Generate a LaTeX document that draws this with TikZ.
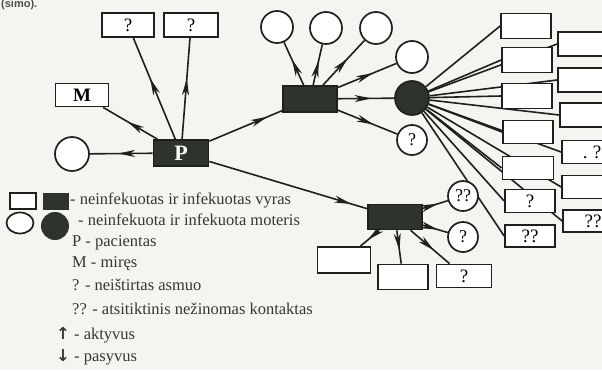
\documentclass[tikz,border=0pt]{standalone}
\usepackage{fontspec}
\setmainfont{Liberation Serif}
\newfontfamily\arrfont{DejaVu Sans}
\newfontfamily\titfont{Liberation Sans}
\usetikzlibrary{arrows.meta,decorations.markings,shapes.geometric}
\definecolor{paper}{HTML}{F4F4F0}
\definecolor{ink}{HTML}{1F201E}
\definecolor{infek}{HTML}{2E332D}
\pgfdeclarelayer{paperL}
\pgfdeclarelayer{lines}
\pgfsetlayers{paperL,lines,main}
\tikzset{
  vyras/.style={draw=ink, line width=1.7pt, fill=white, minimum width=52pt,
    minimum height=24pt, inner sep=0pt, font=\fontsize{19}{19}\selectfont},
  vyrasI/.style={vyras, fill=infek, text=white},
  moteris/.style={circle, draw=ink, line width=1.7pt, fill=white, minimum size=32pt,
    inner sep=0pt, font=\fontsize{18}{18}\selectfont},
  moterisI/.style={moteris, fill=infek},
  rys/.style={draw=ink, line width=1.6pt},
  ryssu/.style={rys, postaction={decorate}, decoration={markings,
    mark=at position #1 with {\arrow{Stealth[length=17pt,width=7pt,inset=5pt]}}}},
  ryssu/.default=0.55,
  leg/.style={anchor=base west, inner sep=0pt, text=ink!90,
    font=\fontsize{16.5}{16.5}\selectfont}
}

\begin{document}
\begin{tikzpicture}[x=1pt,y=-1pt]
  \useasboundingbox (0,0) rectangle (602,370);
  \begin{pgfonlayer}{paperL}
    \fill[paper] (0,0) rectangle (602,370);
  \end{pgfonlayer}
  \clip (0,0) rectangle (602,370);

  \node[anchor=south west, inner sep=0pt, font=\titfont\fontsize{11}{11}\selectfont\bfseries,
    text=ink!80] (titl) at (1,10) {(simo).};

  % pacientas
  \node[vyrasI, minimum width=55pt, minimum height=26pt,
    font=\fontsize{22}{22}\selectfont\bfseries] (P) at (181,153) {P};
  \node[vyras, minimum width=53pt, minimum height=23pt,
    font=\fontsize{19}{19}\selectfont\bfseries] (M) at (82,95) {M};
  \node[moteris, minimum size=34pt] (L) at (72,154) {};
  \node[vyras] (Q1) at (128,25) {?};
  \node[vyras, minimum width=54pt] (Q2) at (191,25) {?};

  % infekuotas vyras (virsuje)
  \node[vyrasI, minimum width=54pt, minimum height=26pt] (V2) at (310,99) {};
  \node[moteris] (C1) at (277,27) {};
  \node[moteris] (C2) at (326,28) {};
  \node[moteris] (C3) at (376,28) {};
  \node[moteris] (C4) at (412,57) {};
  \node[moteris, minimum size=30pt] (Cq) at (412,140) {?};
  \node[moterisI, minimum size=34pt] (Mot) at (412,98) {};

  % moters kontaktai
  \node[vyras, minimum width=50pt, minimum height=25pt] (b1) at (526,26) {};
  \node[vyras, minimum width=50pt, minimum height=25pt] (b2) at (527,60) {};
  \node[vyras, minimum width=50pt, minimum height=25pt] (b3) at (527,96) {};
  \node[vyras, minimum width=50pt, minimum height=23pt] (b4) at (528,132) {};
  \node[vyras, minimum width=51pt, minimum height=23pt] (b5) at (528,168) {};
  \node[vyras, minimum width=50pt, minimum height=23pt] (b6) at (530,201) {?};
  \node[vyras, minimum width=50pt, minimum height=22pt] (b7) at (530,236) {??};
  \node[vyras, minimum width=60pt] (c1) at (588,44) {};
  \node[vyras, minimum width=60pt] (c2) at (588,80) {};
  \node[vyras, minimum width=60pt] (c3) at (590,115) {};
  \node[vyras, minimum width=60pt, minimum height=23pt] (c4) at (592,152) {.\;?};
  \node[vyras, minimum width=60pt, minimum height=23pt] (c5) at (592,187) {};
  \node[vyras, minimum width=60pt, minimum height=22pt] (c6) at (593,221) {??};

  % infekuotas vyras (apacioje)
  \node[vyrasI, minimum width=54pt, minimum height=25pt] (V3) at (395,217) {};
  \node[moteris, minimum size=30pt] (Cqq) at (463,196) {??};
  \node[moteris, minimum size=30pt] (Cq2) at (463,237) {?};
  \node[vyras, minimum width=53pt, minimum height=26pt] (d1) at (344,260) {};
  \node[vyras, minimum width=50pt, minimum height=25pt] (d2) at (403,277) {};
  \node[vyras, minimum width=55pt, minimum height=23pt] (d3) at (464,276) {?};

  \begin{pgfonlayer}{lines}
    \draw[ryssu] (P) -- (M);
    \draw[ryssu] (P) -- (L);
    \draw[ryssu=0.6] (P) -- (Q1);
    \draw[ryssu=0.6] (P) -- (Q2);
    \draw[ryssu=0.8] (P) -- (V2);
    \draw[ryssu=0.9] (P) -- (V3);
    \foreach \c in {C1,C2,C3,C4,Cq}
      \draw[ryssu=0.6] (V2) -- (\c);
    \draw[ryssu=0.6] (V2) -- (Mot);
    \foreach \b in {b1,b2,b3,b4,b5,b6,b7,c1,c2,c3,c4,c5,c6}
      \draw[rys] (Mot) -- (\b.west);
    \foreach \d in {Cqq,Cq2,d1,d2,d3}
      \draw[ryssu=0.6] (V3) -- (\d);
  \end{pgfonlayer}

  % legenda
  \node[vyras, minimum width=26pt, minimum height=16pt] (lv) at (23,201) {};
  \node[vyrasI, minimum width=26pt, minimum height=17pt, draw=none] (lvi) at (56,201) {};
  \node[moteris, ellipse, minimum width=27pt, minimum height=21pt] (lm) at (20,223) {};
  \node[moterisI, minimum size=28pt, draw=none] (lmi) at (55,226) {};
  \node[leg] (t1) at (70,204) {- neinfekuotas ir infekuotas vyras};
  \node[leg] (t2) at (78,225) {- neinfekuota ir infekuota moteris};
  \node[leg] (t3) at (72,246) {P - pacientas};
  \node[leg] (t4) at (72,267) {M - miręs};
  \node[leg] (t5) at (72,290) {? - neištirtas asmuo};
  \node[leg] (t6) at (72,314) {?? - atsitiktinis nežinomas kontaktas};
  \node[leg] (t7) at (56,339) {{\arrfont\bfseries ↑} - aktyvus};
  \node[leg] (t8) at (56,361) {{\arrfont\bfseries ↓} - pasyvus};
\end{tikzpicture}
\end{document}
